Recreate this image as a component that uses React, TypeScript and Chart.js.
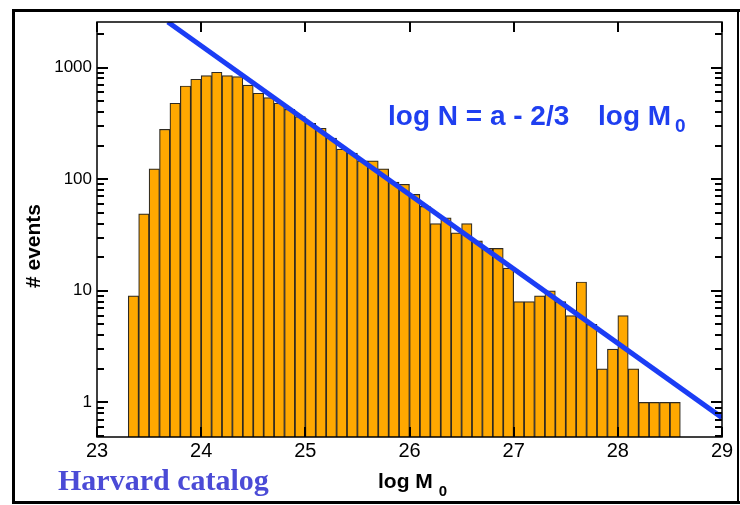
import React, { useEffect, useRef } from "react";
import { Chart, registerables } from "chart.js";

Chart.register(...registerables);

// Histogram bins (log M0), bin width 0.1, centers
const binCenters = [
  23.35, 23.45, 23.55, 23.65, 23.75, 23.85, 23.95, 24.05, 24.15, 24.25,
  24.35, 24.45, 24.55, 24.65, 24.75, 24.85, 24.95, 25.05, 25.15, 25.25,
  25.35, 25.45, 25.55, 25.65, 25.75, 25.85, 25.95, 26.05, 26.15, 26.25,
  26.35, 26.45, 26.55, 26.65, 26.75, 26.85, 26.95, 27.05, 27.15, 27.25,
  27.35, 27.45, 27.55, 27.65, 27.75, 27.85, 27.95, 28.05, 28.15, 28.25,
  28.35, 28.45, 28.55,
];

// Number of events per bin
const eventCounts = [
  9, 49, 124, 280, 479, 684, 786, 846, 908, 846,
  829, 695, 589, 538, 479, 423, 363, 317, 286, 233,
  186, 171, 146, 146, 124, 94, 90, 73, 57, 40,
  45, 33, 40, 28, 24, 24, 16, 8, 8, 9,
  10, 8, 6, 12, 5, 2, 3, 6, 2, 1,
  1, 1, 1,
];

// Fit line endpoints: log N = a - 2/3 log M0
const fitLineX = [23.68, 29];
const fitLineY = [2560, 0.73];

// Axis ticks
const xTickValues = [23, 24, 25, 26, 27, 28, 29];
const yTickValues = [1, 10, 100, 1000];
const yTickLabels = ["1", "10", "100", "1000"];
const yMinorTicks = [
  0.5, 0.6, 0.7, 0.8, 0.9,
  2, 3, 4, 5, 6, 7, 8, 9,
  20, 30, 40, 50, 60, 70, 80, 90,
  200, 300, 400, 500, 600, 700, 800, 900,
  2000,
];

const X_MIN = 23;
const X_MAX = 29;
const Y_MIN = 0.49;
const Y_MAX = 2560;

const SANS = '"Liberation Sans", Arial, Helvetica, sans-serif';
const SERIF = '"Liberation Serif", "Times New Roman", serif';

const decorPlugin = {
  id: "decor",
  afterDraw(chart: any) {
    const ctx = chart.ctx as CanvasRenderingContext2D;
    const { left, right, top, bottom } = chart.chartArea;
    const xs = chart.scales.x;
    const ys = chart.scales.y;
    ctx.save();

    // outer frame
    ctx.strokeStyle = "#000";
    ctx.lineWidth = 3;
    ctx.beginPath();
    ctx.moveTo(742, 10.5);
    ctx.lineTo(13.5, 10.5);
    ctx.lineTo(13.5, 502.5);
    ctx.lineTo(742, 502.5);
    ctx.stroke();
    ctx.lineWidth = 2;
    ctx.beginPath();
    ctx.moveTo(738, 10);
    ctx.lineTo(738, 503);
    ctx.stroke();

    // plot box
    ctx.lineWidth = 1.5;
    ctx.strokeRect(left, top, right - left, bottom - top);

    // y ticks (inward, both sides)
    ctx.lineWidth = 2;
    const drawY = (v: number, len: number) => {
      const p = Math.round(ys.getPixelForValue(v));
      ctx.beginPath();
      ctx.moveTo(left, p);
      ctx.lineTo(left + len, p);
      ctx.moveTo(right, p);
      ctx.lineTo(right - len, p);
      ctx.stroke();
    };
    yTickValues.forEach((v) => drawY(v, 11));
    yMinorTicks.forEach((v) => drawY(v, 7));

    // x ticks (inward, top and bottom)
    xTickValues.forEach((v) => {
      const p = Math.round(xs.getPixelForValue(v));
      ctx.beginPath();
      ctx.moveTo(p, bottom);
      ctx.lineTo(p, bottom - 10);
      ctx.moveTo(p, top);
      ctx.lineTo(p, top + 10);
      ctx.stroke();
    });

    // y-axis title
    ctx.fillStyle = "#000";
    ctx.save();
    ctx.translate(34, 246);
    ctx.rotate(-Math.PI / 2);
    ctx.textAlign = "center";
    ctx.textBaseline = "middle";
    ctx.font = `bold 21px ${SANS}`;
    ctx.fillText("# events", 0, 0);
    ctx.restore();

    // x-axis title with subscript
    ctx.textAlign = "left";
    ctx.textBaseline = "alphabetic";
    ctx.font = `bold 21px ${SANS}`;
    ctx.fillText("log M", 378, 488);
    const wx = ctx.measureText("log M").width;
    ctx.font = `bold 15px ${SANS}`;
    ctx.fillText("0", 378 + wx + 6, 496);

    // Harvard catalog
    ctx.fillStyle = "#4b4bd6";
    ctx.font = `bold 30px ${SERIF}`;
    ctx.fillText("Harvard catalog", 58, 490);

    // equation annotation
    ctx.fillStyle = "#1f3ff0";
    ctx.font = `bold 28px ${SANS}`;
    ctx.fillText("log N = a - 2/3", 388, 125);
    ctx.fillText("log M", 598, 125);
    const wm = ctx.measureText("log M").width;
    ctx.font = `bold 19px ${SANS}`;
    ctx.fillText("0", 598 + wm + 4, 132);

    ctx.restore();
  },
};

export default function App() {
  const canvasRef = useRef<HTMLCanvasElement | null>(null);

  useEffect(() => {
    if (!canvasRef.current) return;
    const chart = new Chart(canvasRef.current, {
      type: "bar",
      data: {
        datasets: [
          {
            type: "line",
            data: fitLineX.map((x, i) => ({ x, y: fitLineY[i] })),
            borderColor: "#1b3df5",
            borderWidth: 5,
            pointRadius: 0,
            fill: false,
            order: 1,
          } as any,
          {
            type: "bar",
            data: binCenters.map((x, i) => ({ x, y: eventCounts[i] })),
            backgroundColor: "#ffa800",
            borderColor: "#2e2a22",
            borderWidth: 1.2,
            barPercentage: 1,
            categoryPercentage: 1,
            order: 2,
          } as any,
        ],
      },
      options: {
        animation: false,
        responsive: true,
        maintainAspectRatio: false,
        layout: { padding: { top: 22, right: 18, left: 0, bottom: 0 } },
        plugins: {
          legend: { display: false },
          tooltip: { enabled: false },
          title: { display: false },
        },
        scales: {
          x: {
            type: "linear",
            min: X_MIN,
            max: X_MAX,
            offset: false,
            grid: { display: false, drawTicks: false, offset: false },
            border: { display: false },
            afterBuildTicks: (scale: any) => {
              scale.ticks = xTickValues.map((v) => ({ value: v }));
            },
            afterFit: (scale: any) => {
              scale.height = 68;
            },
            ticks: {
              color: "#000",
              padding: 2,
              maxRotation: 0,
              autoSkip: false,
              font: { family: SANS, size: 20 },
              callback: (v: any) => String(v),
            },
          },
          y: {
            type: "logarithmic",
            min: Y_MIN,
            max: Y_MAX,
            grid: { display: false, drawTicks: false },
            border: { display: false },
            afterBuildTicks: (scale: any) => {
              scale.ticks = yTickValues.map((v) => ({ value: v }));
            },
            afterFit: (scale: any) => {
              scale.width = 97;
            },
            ticks: {
              color: "#000",
              padding: 5,
              autoSkip: false,
              font: { family: SANS, size: 17 },
              callback: (v: any) => {
                const i = yTickValues.indexOf(Number(v));
                return i >= 0 ? yTickLabels[i] : "";
              },
            },
          },
        },
      } as any,
      plugins: [decorPlugin],
    });
    return () => chart.destroy();
  }, []);

  return (
    <div style={{ position: "absolute", left: 0, top: 0, width: 740, height: 505, background: "#fff" }}>
      <canvas ref={canvasRef} />
    </div>
  );
}
